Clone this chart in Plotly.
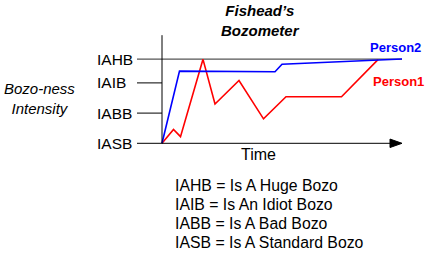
import plotly.graph_objects as go

# ---- data ----
level_labels = ["IASB", "IABB", "IAIB", "IAHB"]
level_values = [0, 1, 2, 2.79]
level_meanings = ["Is A Huge Bozo", "Is An Idiot Bozo", "Is A Bad Bozo", "Is A Standard Bozo"]

p2_time = [0, 17.5, 113, 120, 240]
p2_level = [0, 2.39, 2.37, 2.62, 2.79]

p1_time = [0, 11.5, 18.5, 41, 53, 77, 101.5, 124, 179.5, 216]
p1_level = [0, 0.46, 0.22, 2.78, 1.30, 2.08, 0.81, 1.54, 1.54, 2.77]

FONT = "Liberation Sans, Arial, sans-serif"
PX_PER_LEVEL = 30.2

fig = go.Figure()

# IAHB reference line
fig.add_trace(go.Scatter(x=[-25, 240], y=[level_values[3], level_values[3]], mode="lines",
                         line=dict(color="#555555", width=1.2), hoverinfo="skip", showlegend=False))

fig.add_trace(go.Scatter(x=p1_time, y=p1_level, mode="lines",
                         line=dict(color="#ff0000", width=1.6), showlegend=False, name="Person1"))
fig.add_trace(go.Scatter(x=p2_time, y=p2_level, mode="lines",
                         line=dict(color="#0000ff", width=1.6), showlegend=False, name="Person2"))

shapes = []
# y axis line
shapes.append(dict(type="line", xref="x", yref="y", x0=0, x1=0, y0=0, y1=3.58,
                   line=dict(color="#000000", width=1)))
# x axis line
shapes.append(dict(type="line", xref="x", yref="y", x0=0, x1=230, y0=0, y1=0,
                   line=dict(color="#000000", width=1)))
# arrow head
shapes.append(dict(type="path", xref="x", yref="y",
                   path="M 228,0.14 L 240,0 L 228,-0.14 Z",
                   fillcolor="#000000", line=dict(color="#000000", width=1)))
# ticks
for v in level_values[:3]:
    shapes.append(dict(type="line", xref="x", yref="y", x0=-25, x1=0, y0=v, y1=v,
                       line=dict(color="#000000", width=1)))

annotations = []
for lab, v in zip(level_labels, level_values):
    annotations.append(dict(x=-67, y=v, xref="x", yref="y", text=lab, showarrow=False,
                            xanchor="left", yanchor="middle",
                            font=dict(family=FONT, size=15.5, color="#000000")))

annotations.append(dict(x=-123, y=1.5, xref="x", yref="y",
                        text="<i>Bozo-ness</i><br><i>Intensity</i>", showarrow=False,
                        xanchor="center", yanchor="middle", align="center",
                        font=dict(family=FONT, size=15, color="#000000")))
annotations.append(dict(x=98, y=4.05, xref="x", yref="y",
                        text="<b><i>Fishead\u2019s</i></b><br><b><i>Bozometer</i></b>", showarrow=False,
                        xanchor="center", yanchor="middle", align="center",
                        font=dict(family=FONT, size=15, color="#000000")))
annotations.append(dict(x=96, y=-0.36, xref="x", yref="y", text="Time", showarrow=False,
                        xanchor="center", yanchor="middle",
                        font=dict(family=FONT, size=16, color="#000000")))
annotations.append(dict(x=233.5, y=3.18, xref="x", yref="y", text="<b>Person2</b>", showarrow=False,
                        xanchor="center", yanchor="middle",
                        font=dict(family=FONT, size=13, color="#0000ff")))
annotations.append(dict(x=236, y=2.04, xref="x", yref="y", text="<b>Person1</b>", showarrow=False,
                        xanchor="center", yanchor="middle",
                        font=dict(family=FONT, size=13, color="#ff0000")))

legend_y = [-1.41, -2.04, -2.66, -3.27]
for lab, meaning, ly in zip(level_labels[::-1], level_meanings, legend_y):
    annotations.append(dict(x=11, y=ly, xref="x", yref="y", text=f"{lab} = {meaning}",
                            showarrow=False, xanchor="left", yanchor="middle",
                            font=dict(family=FONT, size=15.8, color="#000000")))

W, H = 426, 253
ORIGIN_X, ORIGIN_Y = 162, 143.3  # pixel position of time 0 / IASB
fig.update_layout(
    width=W, height=H,
    margin=dict(l=0, r=0, t=0, b=0, pad=0),
    paper_bgcolor="#ffffff", plot_bgcolor="#ffffff",
    xaxis=dict(range=[-ORIGIN_X, W - ORIGIN_X], visible=False, fixedrange=True),
    yaxis=dict(range=[(ORIGIN_Y - H) / PX_PER_LEVEL, ORIGIN_Y / PX_PER_LEVEL],
               visible=False, fixedrange=True),
    shapes=shapes, annotations=annotations, showlegend=False,
)

fig.write_html("out.html", config={"displayModeBar": False})
